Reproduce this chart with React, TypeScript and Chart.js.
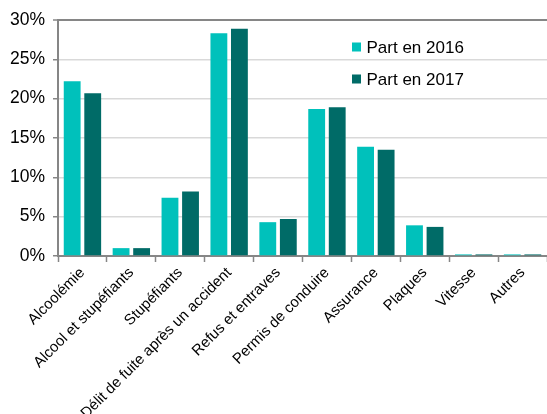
import React, { useEffect, useRef } from "react";
import { Chart, registerables } from "chart.js";

Chart.register(...registerables);

const categories: string[] = [
  "Alcoolémie",
  "Alcool et stupéfiants",
  "Stupéfiants",
  "Délit de fuite après un accident",
  "Refus et entraves",
  "Permis de conduire",
  "Assurance",
  "Plaques",
  "Vitesse",
  "Autres",
];

const part2016: number[] = [22.2, 1.0, 7.4, 28.3, 4.3, 18.7, 13.9, 3.9, 0.2, 0.2];
const part2017: number[] = [20.7, 1.0, 8.2, 28.9, 4.7, 18.9, 13.5, 3.7, 0.2, 0.2];

const seriesLabels: string[] = ["Part en 2016", "Part en 2017"];
const seriesColors: string[] = ["#00C1BB", "#006B67"];

const yTicks: number[] = [0, 5, 10, 15, 20, 25, 30];

const FONT = "'Liberation Sans', Arial, sans-serif";

const legendPlugin = {
  id: "insideLegend",
  afterDraw(chart: any) {
    const ctx = chart.ctx;
    ctx.save();
    ctx.font = `17px ${FONT}`;
    ctx.textBaseline = "middle";
    ctx.textAlign = "left";
    const x0 = 352;
    const rows = [47, 79];
    chart.data.datasets.forEach((ds: any, i: number) => {
      const y = rows[i];
      ctx.fillStyle = ds.backgroundColor;
      ctx.fillRect(x0, y - 4.5, 9, 9);
      ctx.fillStyle = "#000";
      ctx.fillText(ds.label, x0 + 14.5, y + 1);
    });
    ctx.restore();
  },
};

export default function App() {
  const ref = useRef<HTMLCanvasElement | null>(null);

  useEffect(() => {
    if (!ref.current) return;
    const chart = new Chart(ref.current, {
      type: "bar",
      data: {
        labels: categories,
        datasets: [
          {
            label: seriesLabels[0],
            data: part2016,
            backgroundColor: seriesColors[0],
            borderWidth: 0,
            categoryPercentage: 0.84,
            barPercentage: 0.82,
          },
          {
            label: seriesLabels[1],
            data: part2017,
            backgroundColor: seriesColors[1],
            borderWidth: 0,
            categoryPercentage: 0.84,
            barPercentage: 0.82,
          },
        ],
      },
      options: {
        responsive: false,
        animation: false,
        devicePixelRatio: 1,
        layout: { padding: { top: 20, left: 0, right: 0, bottom: 0 } },
        plugins: {
          legend: { display: false },
          tooltip: { enabled: false },
        },
        scales: {
          x: {
            offset: true,
            grid: {
              offset: true,
              drawOnChartArea: false,
              drawTicks: true,
              tickLength: 6,
              tickColor: "#868686",
              tickWidth: 1.5,
            },
            border: { color: "#868686", width: 2 },
            ticks: {
              autoSkip: false,
              maxRotation: 45,
              minRotation: 45,
              padding: 2,
              color: "#000",
              font: { family: FONT, size: 15 },
            },
            afterFit(scale: any) {
              scale.height = 158;
            },
          },
          y: {
            min: 0,
            max: 30,
            afterBuildTicks(scale: any) {
              scale.ticks = yTicks.map((v) => ({ value: v }));
            },
            grid: {
              color: (c: any) => (c.tick && c.tick.value === 30 ? "#868686" : "#D9D9D9"),
              lineWidth: (c: any) => (c.tick && c.tick.value === 30 ? 2 : 1.5),
              tickLength: 5,
              tickColor: "#868686",
              tickWidth: 1.5,
            },
            border: { color: "#868686", width: 2 },
            ticks: {
              padding: 8,
              color: "#000",
              font: { family: FONT, size: 17.5 },
              callback: (v: any) => `${v}%`,
            },
            afterFit(scale: any) {
              scale.width = 58;
            },
          },
        },
      },
      plugins: [legendPlugin],
    });
    return () => chart.destroy();
  }, []);

  return (
    <div style={{ position: "absolute", left: 0, top: 0, width: 547, height: 414, background: "#fff" }}>
      <canvas ref={ref} width={547} height={414} style={{ display: "block" }} />
    </div>
  );
}
